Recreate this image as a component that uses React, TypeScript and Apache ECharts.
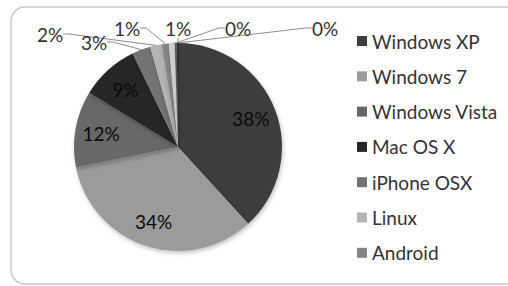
import React, { useEffect, useRef } from "react";
import * as echarts from "echarts";

const categories = [
  "Windows XP",
  "Windows 7",
  "Windows Vista",
  "Mac OS X",
  "iPhone OSX",
  "Linux",
  "Android",
  "Other A",
  "Other B",
  "Other C",
];
const legendNames = categories.slice(0, 7);
const values = [38.3, 33.7, 11.9, 9.1, 2.9, 1.8, 1.1, 0.9, 0.3, 0.2];
const colors = [
  "#3d3d3d",
  "#9b9b9b",
  "#676767",
  "#262626",
  "#737373",
  "#b4b4b4",
  "#858585",
  "#cfcfcf",
  "#5a5a5a",
  "#2e2e2e",
];
// label placement (styling) for the slim slices, text centres
const outsideLabelPos: Record<number, [number, number]> = {
  4: [94, 42],
  5: [50, 34],
  6: [127, 28],
  7: [178, 28],
  8: [238, 28],
  9: [325, 28],
};
const insideCount = 4;

const CX = 178;
const CY = 147;
const R = 104;

export default function App() {
  const ref = useRef<HTMLDivElement>(null);
  useEffect(() => {
    if (!ref.current) return;
    const chart = echarts.init(ref.current, undefined, { renderer: "svg" });
    const font = "Lato, 'Open Sans', sans-serif";
    chart.setOption({
      animation: false,
      backgroundColor: "#ffffff",
      graphic: [
        {
          type: "rect",
          shape: { x: 11, y: 7, width: 530, height: 277, r: 14 },
          style: { fill: "none", stroke: "#c9c9c9", lineWidth: 1.5 },
          silent: true,
        },
      ],
      legend: {
        orient: "vertical",
        left: 357,
        top: 31,
        data: legendNames,
        icon: "rect",
        itemWidth: 10,
        itemHeight: 10,
        itemGap: 15.3,
        textStyle: {
          fontFamily: font,
          fontSize: 19,
          color: "#333333",
          lineHeight: 20,
          padding: [0, 0, 0, 0],
        },
        padding: 0,
        selectedMode: false,
      },
      series: [
        {
          type: "pie",
          center: [CX, CY],
          radius: [0, R],
          startAngle: 90,
          clockwise: true,
          percentPrecision: 1,
          avoidLabelOverlap: false,
          data: categories.map((name, i) => ({
            name,
            value: values[i],
            itemStyle: { color: colors[i] },
            label:
              i < insideCount
                ? { position: "inside", color: "#0a0a0a" }
                : { position: "outside", color: "#333333" },
            labelLine: { show: i >= insideCount },
          })),
          itemStyle: {
            borderWidth: 0,
            shadowColor: "rgba(0,0,0,0.25)",
            shadowBlur: 4,
            shadowOffsetX: 1,
            shadowOffsetY: 2,
          },
          label: {
            formatter: (p: any) => Math.round(p.percent) + "%",
            fontFamily: font,
            fontSize: 19,
          },
          labelLine: {
            length: 4,
            length2: 6,
            lineStyle: { color: "#8c8c8c", width: 1 },
          },
          labelLayout: (p: any) => {
            const i = p.dataIndex;
            if (i < insideCount) {
              const r = p.labelRect;
              const lx = r.x + r.width / 2;
              const ly = r.y + r.height / 2;
              return { dx: (lx - CX) * 0.42, dy: (ly - CY) * 0.42 };
            }
            const pos = outsideLabelPos[i];
            if (!pos) return {};
            return { x: pos[0], y: pos[1], align: "center", verticalAlign: "middle" };
          },
          emphasis: { disabled: true },
        },
      ],
    });
    return () => chart.dispose();
  }, []);
  return (
    <div
      ref={ref}
      style={{ position: "fixed", left: 0, top: 0, width: 508, height: 286 }}
    />
  );
}
